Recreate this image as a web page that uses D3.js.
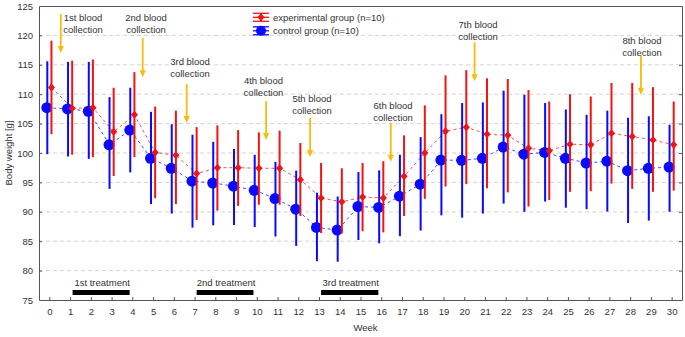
<!DOCTYPE html>
<html><head><meta charset="utf-8">
<script src="https://cdn.jsdelivr.net/npm/d3@7"></script>
<style>body{margin:0;background:#fff} text{font-family:"Liberation Sans",Arial,Helvetica,sans-serif;fill:#333}</style>
</head><body><svg id="c" width="685" height="337"></svg>
<script>
const weeks = [0,1,2,3,4,5,6,7,8,9,10,11,12,13,14,15,16,17,18,19,20,21,22,23,24,25,26,27,28,29,30];
const yTicks = [75,80,85,90,95,100,105,110,115,120,125];

const controlMean = [107.7,107.5,107.1,101.4,103.9,99.1,97.4,95.2,94.9,94.35,93.65,92.25,90.45,87.35,86.9,90.9,90.75,92.65,94.7,98.8,98.75,99.1,101.0,99.8,100.1,99.1,98.3,98.6,97.0,97.4,97.6];
const controlHigh = [115.6,115.5,115.5,109.5,111.1,107.0,104.9,103.1,101.9,100.7,99.7,98.5,97.0,93.25,92.6,96.75,97.05,99.7,102.7,106.6,108.5,108.6,110.6,109.9,108.5,107.4,106.5,107.2,106.0,106.25,104.8];
const controlLow  = [99.8,99.4,99.0,93.9,96.7,91.3,89.7,87.3,87.7,87.75,87.4,85.8,84.2,81.6,81.5,85.2,84.65,85.85,86.8,89.4,89.0,89.7,91.4,90.0,91.75,90.7,90.45,90.05,88.1,88.5,90.0];

const expMean = [111.15,107.6,107.7,103.6,106.5,100.1,99.6,96.5,97.5,97.5,97.4,97.4,95.45,92.35,91.7,92.5,92.35,96.05,100.0,103.7,104.4,103.2,103.0,100.8,100.4,101.5,101.4,103.35,102.8,102.2,101.4];
const expHigh = [119.1,115.7,115.9,111.1,113.75,107.9,107.2,104.4,104.7,103.9,103.5,103.8,101.7,98.3,97.4,98.3,98.6,103.0,108.1,113.2,114.1,112.7,112.6,110.7,108.75,110.0,109.6,111.9,111.9,111.2,108.75];
const expLow  = [103.2,99.7,99.3,96.1,99.3,92.3,91.3,88.6,90.2,91.0,91.2,91.2,89.3,86.4,86.3,86.7,86.5,89.3,92.2,94.3,94.7,94.0,93.3,90.9,92.0,93.4,93.5,94.8,93.9,93.4,93.6];

const collectionLine1 = ["1st blood","2nd blood","3rd blood","4th blood","5th blood","6th blood","7th blood","8th blood"];
const collectionLine2 = ["collection","collection","collection","collection","collection","collection","collection","collection"];
const collectionWeek  = [0.55,4.5,6.62,10.45,12.57,16.46,20.5,28.52];
const collectionTip   = [117.0,112.9,105.1,102.2,99.3,98.5,112.2,109.9];
const collectionLabelWeek  = [1.62,4.66,6.78,10.32,12.66,16.57,20.67,28.57];
const collectionLabelValue = [122.96,123.1,115.5,112.25,109.35,108.15,121.8,119.2];

const treatmentNames = ["1st treatment","2nd treatment","3rd treatment"];
const treatmentStart = [1.12,7.1,13.1];
const treatmentEnd   = [3.87,9.84,15.86];

const legendNames = ["experimental group (n=10)","control group (n=10)"];

const BLUE = "#0a0aff", RED = "#f01414", GOLD = "#f7bd0a";
const svg = d3.select("#c");
const x = d3.scaleLinear().domain([-0.5,30.5]).range([39,682]);
const y = d3.scaleLinear().domain([75,125]).range([300,6]);
const fs = "9.5px";

// grid
svg.append("g").selectAll("line").data(yTicks.filter(v=>v>75&&v<125)).join("line")
  .attr("x1",x.range()[0]).attr("x2",x.range()[1]).attr("y1",d=>y(d)).attr("y2",d=>y(d))
  .attr("stroke","#d4d4d4").attr("stroke-width",1).attr("stroke-dasharray","4,3");

// axes
const axL = svg.append("g").attr("transform",`translate(${x.range()[0]},0)`)
  .call(d3.axisLeft(y).tickValues(yTicks).tickSizeInner(-3).tickSizeOuter(0).tickPadding(6));
const axR = svg.append("g").attr("transform",`translate(${x.range()[1]},0)`)
  .call(d3.axisRight(y).tickValues(yTicks).tickSizeInner(-3).tickSizeOuter(0).tickFormat(""));
const axB = svg.append("g").attr("transform",`translate(0,${y.range()[0]})`)
  .call(d3.axisBottom(x).tickValues(weeks).tickSizeInner(-3).tickSizeOuter(0).tickPadding(8));
const axT = svg.append("g").attr("transform",`translate(0,${y.range()[1]})`)
  .call(d3.axisTop(x).tickValues([]).tickSizeOuter(0));
[axL,axR,axB,axT].forEach(g=>{
  g.selectAll("path.domain").attr("stroke","#555");
  g.selectAll(".tick line").attr("stroke","#555");
  g.selectAll("text").attr("fill","#333").style("font-size",fs).style("font-family",'"Liberation Sans",Arial,sans-serif');
});
axR.selectAll(".tick").filter(d=>d===75||d===125).remove();
axL.selectAll(".tick line").filter(d=>d===75||d===125).remove();

svg.append("text").attr("transform",`translate(12,${(y.range()[0]+y.range()[1])/2}) rotate(-90)`)
  .attr("text-anchor","middle").style("font-size",fs).text("Body weight [g]");
svg.append("text").attr("x",x(15)+5).attr("y",331).attr("text-anchor","middle").style("font-size",fs).text("Week");

// treatments
const tg = svg.append("g");
tg.selectAll("rect").data(treatmentNames).join("rect")
  .attr("x",(d,i)=>x(treatmentStart[i])).attr("width",(d,i)=>x(treatmentEnd[i])-x(treatmentStart[i]))
  .attr("y",y(76.7)).attr("height",y(75.85)-y(76.7)).attr("fill","#000");
tg.selectAll("text").data(treatmentNames).join("text")
  .attr("x",(d,i)=>(x(treatmentStart[i])+x(treatmentEnd[i]))/2+1).attr("y",y(77.4))
  .attr("text-anchor","middle").style("font-size",fs).text(d=>d);

// blood collection annotations
const ag = svg.append("g");
collectionWeek.forEach((w,i)=>{
  const ax = x(w), tip = y(collectionTip[i]), top = tip-39;
  ag.append("line").attr("x1",ax).attr("x2",ax).attr("y1",top).attr("y2",tip-6)
    .attr("stroke",GOLD).attr("stroke-width",1.8);
  ag.append("path").attr("d",`M${ax-3.2},${tip-7}L${ax+3.2},${tip-7}L${ax},${tip}Z`).attr("fill",GOLD);
  const lx = x(collectionLabelWeek[i]), ly = y(collectionLabelValue[i]);
  ag.append("text").attr("x",lx).attr("y",ly+3.5).attr("text-anchor","middle").style("font-size",fs).text(collectionLine1[i]);
  ag.append("text").attr("x",lx).attr("y",ly+15.5).attr("text-anchor","middle").style("font-size",fs).text(collectionLine2[i]);
});

// series
const off = 0.1;
const line = (arr,o)=>d3.line().x((d,i)=>x(weeks[i]+o)).y(d=>y(d))(arr);
svg.append("path").attr("d",line(controlMean,-off)).attr("fill","none").attr("stroke",BLUE).attr("stroke-opacity",0.75).attr("stroke-width",1).attr("stroke-dasharray","3,3");
svg.append("path").attr("d",line(expMean,off)).attr("fill","none").attr("stroke",RED).attr("stroke-opacity",0.75).attr("stroke-width",1).attr("stroke-dasharray","3,3");

const cg = svg.append("g");
cg.selectAll("line").data(weeks).join("line")
  .attr("x1",(d,i)=>x(d-off)).attr("x2",(d,i)=>x(d-off))
  .attr("y1",(d,i)=>y(controlHigh[i])).attr("y2",(d,i)=>y(controlLow[i]))
  .attr("stroke",BLUE).attr("stroke-width",2);
cg.selectAll("circle").data(weeks).join("circle")
  .attr("cx",(d,i)=>x(d-off)-0.5).attr("cy",(d,i)=>y(controlMean[i])).attr("r",5.5).attr("fill",BLUE);

const eg = svg.append("g");
eg.selectAll("line").data(weeks).join("line")
  .attr("x1",(d,i)=>x(d+off)).attr("x2",(d,i)=>x(d+off))
  .attr("y1",(d,i)=>y(expHigh[i])).attr("y2",(d,i)=>y(expLow[i]))
  .attr("stroke",RED).attr("stroke-width",2);
const diamond = (cx,cy)=>`M${cx},${cy-4}L${cx+3.6},${cy}L${cx},${cy+4}L${cx-3.6},${cy}Z`;
eg.selectAll("path").data(weeks).join("path")
  .attr("d",(d,i)=>diamond(x(d+off),y(expMean[i]))).attr("fill",RED);

// legend
const lg = svg.append("g");
const legCol = [RED,BLUE];
const legY = [17.3,30.8];
legendNames.forEach((n,i)=>{
  const cy = legY[i], cx = 261, c = legCol[i];
  const g = lg.append("g").attr("stroke",c).attr("stroke-width",1.3);
  g.append("line").attr("x1",cx-8).attr("x2",cx+8).attr("y1",cy-4).attr("y2",cy-4);
  g.append("line").attr("x1",cx-8).attr("x2",cx+8).attr("y1",cy+4).attr("y2",cy+4);
  g.append("line").attr("x1",cx-8).attr("x2",cx+8).attr("y1",cy).attr("y2",cy);
  g.append("line").attr("x1",cx).attr("x2",cx).attr("y1",cy-4).attr("y2",cy+4).attr("stroke-width",2);
  if(i===0) lg.append("path").attr("d",diamond(cx,cy)).attr("fill",c);
  else lg.append("circle").attr("cx",cx).attr("cy",cy).attr("r",5).attr("fill",c);
  lg.append("text").attr("x",273).attr("y",cy+3.5).style("font-size",fs).text(n);
});
</script></body></html>
